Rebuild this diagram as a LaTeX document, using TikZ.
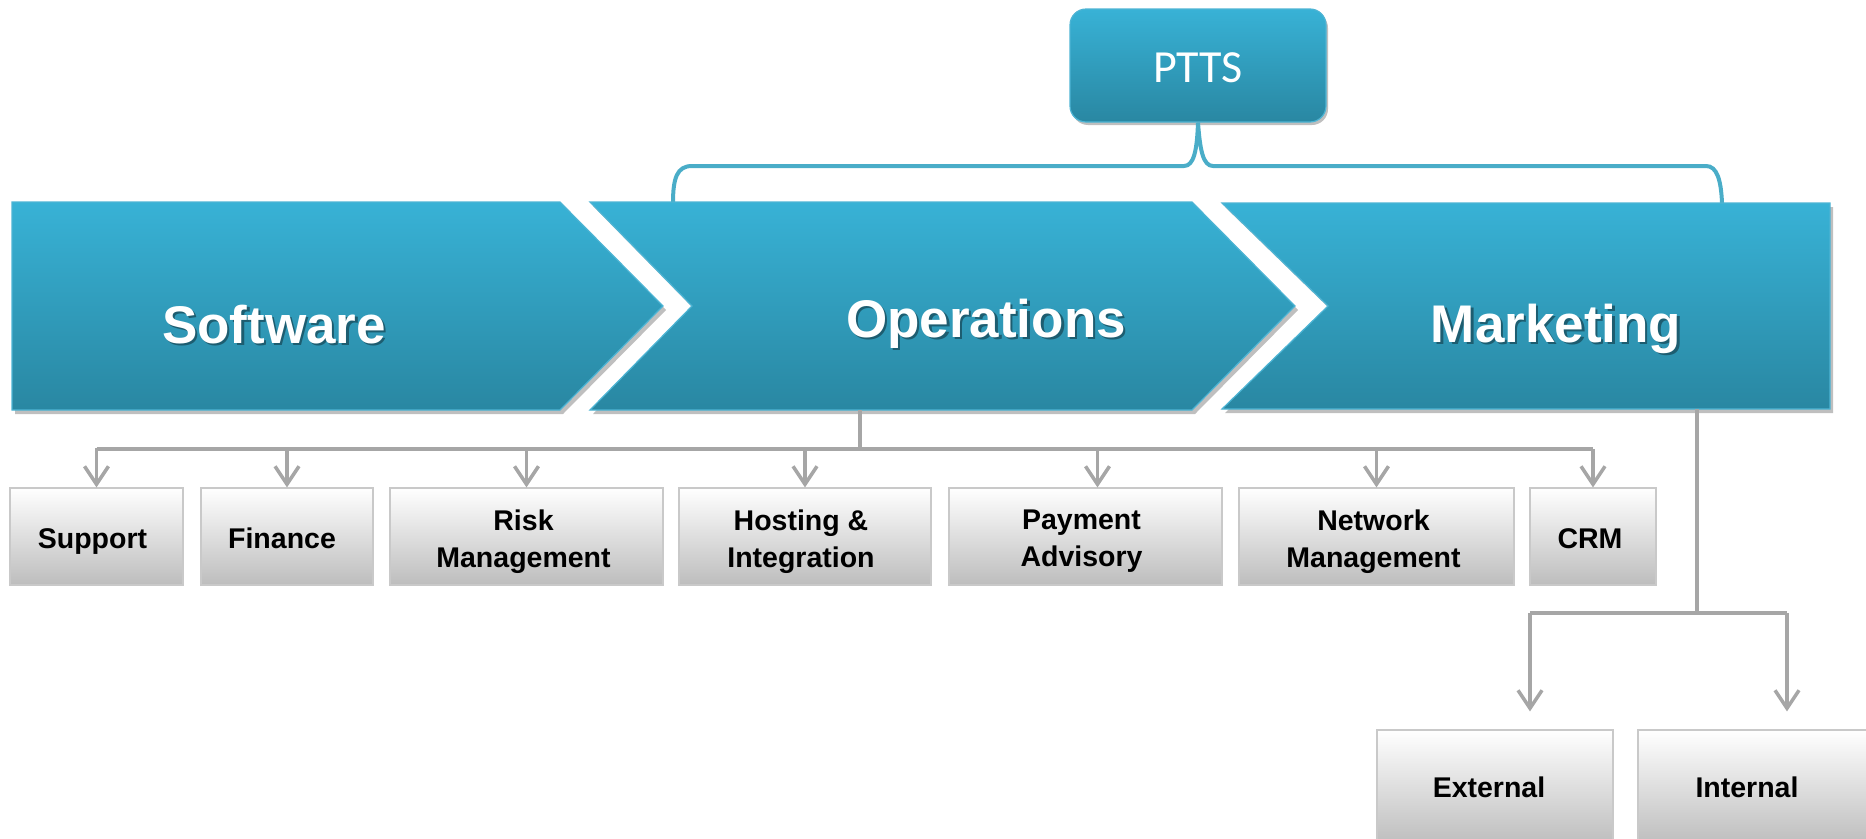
\documentclass[tikz,border=0pt]{standalone}
\usepackage{fontspec}
\setmainfont{Liberation Sans}
\newfontfamily\ptfont{Carlito}
\usetikzlibrary{arrows.meta,shadows}

\definecolor{bluetop}{HTML}{38B2D6}
\definecolor{bluebot}{HTML}{2987A2}
\definecolor{blueline}{HTML}{4DB4D4}
\definecolor{bracecol}{HTML}{4AADC8}
\definecolor{labelshade}{HTML}{1D5D70}
\definecolor{connector}{HTML}{A6A6A6}
\definecolor{boxline}{HTML}{C9C9C9}
\definecolor{boxbot}{HTML}{BDBDBD}

% white label with a dark offset copy behind it
\newcommand\shadedlabel[1]{\makebox[0pt][l]{\kern2.5pt\raisebox{-2.5pt}{\textcolor{labelshade}{#1}}}#1}

\begin{document}
\begin{tikzpicture}[x=1pt,y=-1pt,
  chev/.style={top color=bluetop,bottom color=bluebot,draw=blueline,line width=1.2pt,line join=miter,
    drop shadow={shadow xshift=3pt,shadow yshift=-4pt,opacity=0.25,fill=black}},
  chevlabel/.style={anchor=base,text=white,inner sep=0pt,font=\fontsize{53}{60}\selectfont\bfseries},
  ptts/.style={rounded corners=16pt,minimum width=256pt,minimum height=113pt,
    top color=bluetop,bottom color=bluebot,draw=blueline,line width=1.2pt,text=white,
    text height=33pt,text depth=0pt,
    drop shadow={shadow xshift=2pt,shadow yshift=-3pt,opacity=0.25,fill=black},
    font=\ptfont\fontsize{46}{50}\selectfont},
  brace/.style={draw=bracecol,line width=4pt,line cap=round},
  unit/.style={draw=boxline,line width=1.2pt,top color=white,bottom color=boxbot,
    minimum height=97pt,inner sep=0pt},
  leaf/.style={unit,minimum height=115pt},
  unitlabel/.style={inner sep=0pt,align=center,font=\fontsize{28.5}{37}\selectfont\bfseries},
  conn/.style={draw=connector,line width=3.5pt,line join=miter},
  tip/.style={-{Straight Barb[length=18pt,width=24pt,line width=3.5pt]}},
]
\useasboundingbox (0,0) rectangle (1866,838);

% top node and its bracket
\node[ptts] (ptts) at (1198,65.5) {PTTS};
\draw[brace] (673,203) .. controls (673,178) and (677,166) .. (692,166) -- (1184,166)
  .. controls (1194,166) and (1197,150) .. (ptts.south)
  .. controls (1200,150) and (1203,166) .. (1213,166) -- (1706,166)
  .. controls (1717,166) and (1721,180) .. (1722,203);

% process chevrons
\path[chev] (12,202) -- (560,202) -- (663,306) -- (560,410) -- (12,410) -- cycle;
\path[chev] (590,202) -- (1192,202) -- (1295,306) -- (1192,410) -- (590,410) -- (692,306) -- cycle;
\path[chev] (1222,203) -- (1830,203) -- (1830,409) -- (1222,409) -- (1328,306) -- cycle;

\node[chevlabel] (software) at (274,343) {\shadedlabel{Software}};
\node[chevlabel] (operations) at (986,337) {\shadedlabel{Operations}};
\node[chevlabel] (marketing) at (1556,342) {\shadedlabel{Marketing}};

\coordinate (ops-foot) at (860,410);
\coordinate (mkt-foot) at (1697,409);
\coordinate (bus) at (0,449);
\coordinate (mkt-bus) at (1697,613);
\coordinate (row-base) at (0,548);
\coordinate (leaf-base) at (0,797);

% operations units
\node[unit,minimum width=173pt] (support) at (96.5,536.5) {};
\node[unit,minimum width=172pt] (finance) at (287,536.5) {};
\node[unit,minimum width=273pt] (risk) at (526.5,536.5) {};
\node[unit,minimum width=252pt] (hosting) at (805,536.5) {};
\node[unit,minimum width=273pt] (payment) at (1085.5,536.5) {};
\node[unit,minimum width=275pt] (network) at (1376.5,536.5) {};
\node[unit,minimum width=126pt] (crm) at (1593,536.5) {};

\node[unitlabel,anchor=base] (support-text) at ([xshift=-4pt]support.center |- row-base) {Support};
\node[unitlabel,anchor=base] (finance-text) at ([xshift=-5pt]finance.center |- row-base) {Finance};
\node[unitlabel] (risk-text) at ([xshift=-3pt,yshift=-5pt]risk.center) {Risk\\Management};
\node[unitlabel] (hosting-text) at ([xshift=-4pt,yshift=-5pt]hosting.center) {Hosting \&\\Integration};
\node[unitlabel] (payment-text) at ([xshift=-4pt,yshift=-5pt]payment.center) {Payment\\Advisory};
\node[unitlabel] (network-text) at ([xshift=-3pt,yshift=-5pt]network.center) {Network\\Management};
\node[unitlabel,anchor=base] (crm-text) at ([xshift=-3pt]crm.center |- row-base) {CRM};

% marketing units
\node[leaf,minimum width=236pt] (external) at (1495,787.5) {};
\node[leaf,minimum width=232pt] (internal) at (1754,787.5) {};
\node[unitlabel,anchor=base] (external-text) at ([xshift=-6pt]external.center |- leaf-base) {External};
\node[unitlabel,anchor=base] (internal-text) at ([xshift=-7pt]internal.center |- leaf-base) {Internal};

% operations connectors
\draw[conn] (ops-foot) -- (ops-foot |- bus);
\draw[conn,tip,shorten <=-1pt] (support.north |- bus) -- (support.north);
\draw[conn] (support.north |- bus) -- (crm.north |- bus);
\draw[conn,tip] (crm.north |- bus) -- (crm.north);
\draw[conn,tip] (finance.north |- bus) -- (finance.north);
\draw[conn,tip] (risk.north |- bus) -- (risk.north);
\draw[conn,tip] (hosting.north |- bus) -- (hosting.north);
\coordinate (pay-in) at ([xshift=12pt]payment.north);
\draw[conn,tip] (pay-in |- bus) -- (pay-in);
\draw[conn,tip] (network.north |- bus) -- (network.north);

% marketing connectors
\coordinate (ext-in) at ([xshift=35pt]external.north);
\coordinate (int-in) at ([xshift=33pt]internal.north);
\draw[conn] (mkt-foot) -- (mkt-bus);
\draw[conn] (ext-in |- mkt-bus) -- (int-in |- mkt-bus);
\draw[conn,tip,shorten >=18pt] (ext-in |- mkt-bus) -- (ext-in);
\draw[conn,tip,shorten >=18pt] (int-in |- mkt-bus) -- (int-in);
\end{tikzpicture}
\end{document}
